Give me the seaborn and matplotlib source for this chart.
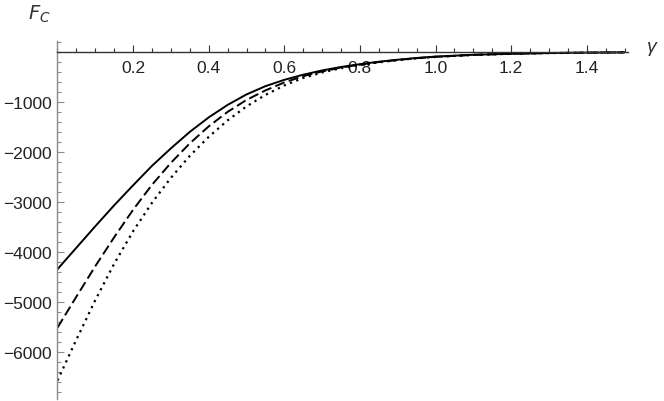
import numpy as np
import pandas as pd
import matplotlib
matplotlib.use("Agg")
import matplotlib.pyplot as plt
from matplotlib.ticker import MultipleLocator, FixedLocator
import seaborn as sns

gamma = [0.0, 0.05, 0.1, 0.15, 0.2, 0.25, 0.3, 0.35, 0.4, 0.45, 0.5,
         0.55, 0.6, 0.65, 0.7, 0.75, 0.8, 0.85, 0.9, 0.95, 1.0,
         1.1, 1.2, 1.3, 1.4, 1.5]
fc_solid = [-4350, -3920, -3490, -3070, -2670, -2280, -1930, -1600, -1310, -1060, -850,
            -685, -558, -455, -370, -300, -245, -195, -155, -120, -92,
            -56, -35, -21, -13, -8]
fc_dashed = [-5520, -4900, -4290, -3710, -3160, -2660, -2220, -1830, -1490, -1200, -960,
             -770, -610, -485, -390, -312, -252, -202, -160, -125, -97,
             -58, -36, -22, -13, -8]
fc_dotted = [-6580, -5760, -4970, -4240, -3590, -3020, -2520, -2080, -1700, -1370, -1090,
             -860, -670, -520, -410, -325, -260, -207, -163, -127, -99,
             -59, -37, -22, -14, -8]

x_ticks = [0.2, 0.4, 0.6, 0.8, 1.0, 1.2, 1.4]
x_ticklabels = ["0.2", "0.4", "0.6", "0.8", "1.0", "1.2", "1.4"]
y_ticks = [-1000, -2000, -3000, -4000, -5000, -6000]
y_ticklabels = ["\u22121000", "\u22122000", "\u22123000", "\u22124000", "\u22125000", "\u22126000"]

sns.set_style("white")
plt.rcParams['font.family'] = ['Liberation Sans', 'DejaVu Sans']

fig = plt.figure(figsize=(6.64, 4.02), dpi=100)
ax = fig.add_axes([57.5 / 664, 1 - 400 / 402, 567 / 664, (400 - 42) / 402])

lw = 1.4
sns.lineplot(x=gamma, y=fc_solid, ax=ax, color="black", lw=lw)
sns.lineplot(x=gamma, y=fc_dashed, ax=ax, color="black", lw=lw)
ax.lines[-1].set_dashes((5.2, 2.2))
sns.lineplot(x=gamma, y=fc_dotted, ax=ax, color="black", lw=1.6)
ax.lines[-1].set_dashes((1.0, 2.0))

ax.set_xlim(0, 1.5)
ax.set_ylim(-6950, 220)

for s in ["top", "right"]:
    ax.spines[s].set_visible(False)
ax.spines["left"].set_position(("data", 0))
ax.spines["bottom"].set_position(("data", 0))
ax.spines["left"].set_color("#8a8a8a")
ax.spines["bottom"].set_color("#333333")
ax.spines["left"].set_linewidth(1.0)
ax.spines["bottom"].set_linewidth(1.0)
ax.spines["bottom"].set_bounds(0, 1.51)

ax.xaxis.set_major_locator(FixedLocator(x_ticks))
ax.set_xticklabels(x_ticklabels)
ax.xaxis.set_minor_locator(MultipleLocator(0.05))
ax.yaxis.set_major_locator(FixedLocator(y_ticks))
ax.set_yticklabels(y_ticklabels)
ax.yaxis.set_minor_locator(MultipleLocator(200))

ax.tick_params(axis="x", which="both", direction="in", bottom=True, color="#333333",
               labelsize=12.5, pad=6, labelcolor="#222222")
ax.tick_params(axis="x", which="major", length=5, width=0.8)
ax.tick_params(axis="x", which="minor", length=3, width=0.8)
ax.tick_params(axis="y", which="both", direction="in", left=True, color="#8a8a8a",
               labelsize=12.5, pad=4, labelcolor="#222222")
ax.tick_params(axis="y", which="major", length=5, width=0.8)
ax.tick_params(axis="y", which="minor", length=3, width=0.8)

ax.set_xlabel("")
ax.set_ylabel("")
fig.text(28 / 664, 1 - 14 / 402, r"$F_C$", fontsize=14, color="#333333",
         ha="left", va="center", family="DejaVu Sans")
fig.text(652 / 664, 1 - 47 / 402, "\u03b3", fontsize=14, style="italic", color="#333333",
         ha="center", va="center")

ax.grid(False)
fig.savefig("out.png", dpi=100)
